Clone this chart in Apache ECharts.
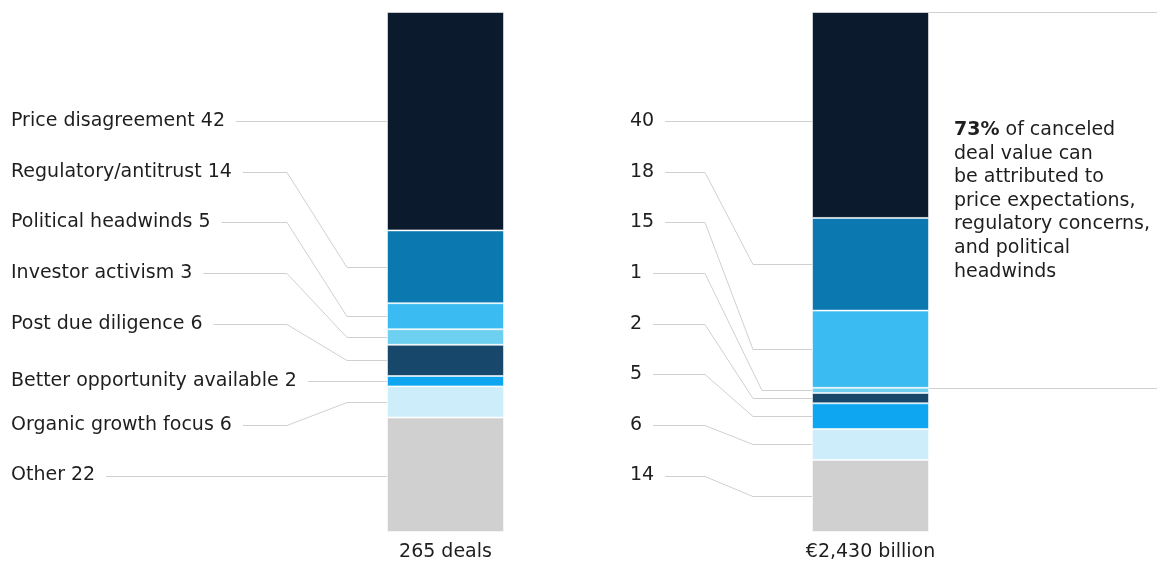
<!DOCTYPE html>
<html><head><meta charset="utf-8">
<script src="https://cdn.jsdelivr.net/npm/echarts@6/dist/echarts.min.js"></script>
<style>html,body{margin:0;padding:0;background:#fff}#c{width:1157px;height:563px}</style>
</head><body><div id="c"></div>
<script>
// ---- data ----
const categories = ['Price disagreement','Regulatory/antitrust','Political headwinds','Investor activism','Post due diligence','Better opportunity available','Organic growth focus','Other'];
const dealShares = [42,14,5,3,6,2,6,22];
const valueShares = [40,18,15,1,2,5,6,14];
const barNames = ['265 deals','€2,430 billion'];
const noteLines = ['{b|73%} of canceled','deal value can','be attributed to','price expectations,','regulatory concerns,','and political','headwinds'];
const notedCount = 3; // price + regulatory + political = 73% of value

// ---- styles / layout ----
const colors = ['#0b1a2d','#0b78b0','#3abcf3','#6ed0f0','#17476b','#0ea6f0','#cdedfb','#d0d0d0'];
const FONT = '"DejaVu Sans", sans-serif';
const FS = 19;
const TXT = '#1e1e1e';
const LINE = '#d0d0d0';
const BAR_W = 117;
const LABEL_TOP = 121, LABEL_STEP = 50.65;

const sum = a => a.reduce((s, v) => s + v, 0);
const panels = [
  { data: dealShares, labels: categories.map((c, i) => c + ' ' + dealShares[i]), labelX: 11, e1: 100, e2: 40, straight: [0, 5, 7], e2fix: {} },
  { data: valueShares, labels: valueShares.map(v => String(v)), labelX: 630, e1: 107, e2: 59, straight: [0], e2fix: { 3: -9 } }
];

const chart = echarts.init(document.getElementById('c'), null, { renderer: 'canvas' });
const series = [];
panels.forEach((p, pi) => {
  categories.forEach((c, i) => {
    series.push({
      type: 'bar', name: c, stack: 's' + pi, xAxisIndex: pi, yAxisIndex: pi,
      barWidth: '100%', data: [p.data[i]], silent: true,
      itemStyle: { color: colors[i], borderColor: 'rgba(255,255,255,0.55)', borderWidth: 1 }
    });
  });
});
chart.setOption({
  animation: false,
  grid: [
    { left: 387, top: 12, width: BAR_W, height: 520 },
    { left: 812, top: 12, width: BAR_W, height: 520 }
  ],
  xAxis: [0, 1].map(i => ({
    type: 'category', gridIndex: i, data: [barNames[i]],
    axisLine: { show: false }, axisTick: { show: false }, splitLine: { show: false },
    axisLabel: { fontFamily: FONT, fontSize: FS, color: TXT, margin: 11 }
  })),
  yAxis: [0, 1].map(i => ({
    type: 'value', gridIndex: i, min: 0, max: sum(panels[i].data), inverse: true, show: false
  })),
  series
});

const ctx = document.createElement('canvas').getContext('2d');
ctx.font = FS + 'px "DejaVu Sans"';
const graphics = [];
const crisp = v => Math.round(v) + 0.5;

panels.forEach((p, pi) => {
  const cx = chart.convertToPixel({ xAxisIndex: pi }, barNames[pi]);
  const barLeft = cx - BAR_W / 2;
  let cum = 0;
  p.data.forEach((v, i) => {
    const yTop = chart.convertToPixel({ yAxisIndex: pi }, cum);
    const yBot = chart.convertToPixel({ yAxisIndex: pi }, cum + v);
    cum += v;
    const mid = (yTop + yBot) / 2;
    let ly = LABEL_TOP + i * LABEL_STEP;
    const straight = p.straight.includes(i);
    if (straight && !(ly > yTop + 2 && ly < yBot - 2)) ly = mid;
    graphics.push({
      type: 'text', x: p.labelX, y: ly, silent: true,
      style: { text: p.labels[i], fontFamily: FONT, fontSize: FS, fill: TXT, textVerticalAlign: 'middle', verticalAlign: 'middle' }
    });
    const x0 = p.labelX + ctx.measureText(p.labels[i]).width + 11;
    let pts;
    if (straight) {
      pts = [[x0, crisp(ly)], [barLeft, crisp(ly)]];
    } else {
      const e2 = barLeft - p.e2 + (p.e2fix[i] ? -p.e2fix[i] : 0);
      pts = [[x0, crisp(ly)], [barLeft - p.e1, crisp(ly)], [e2, crisp(mid)], [barLeft, crisp(mid)]];
    }
    graphics.push({ type: 'polyline', silent: true, shape: { points: pts }, style: { stroke: LINE, lineWidth: 1, fill: null } });
  });
});

// bracket lines and note on right panel
(function () {
  const pi = 1;
  const cx = chart.convertToPixel({ xAxisIndex: pi }, barNames[pi]);
  const barRight = cx + BAR_W / 2;
  const yA = chart.convertToPixel({ yAxisIndex: pi }, 0);
  const yB = chart.convertToPixel({ yAxisIndex: pi }, sum(valueShares.slice(0, notedCount)));
  [yA, yB].forEach(y => graphics.push({
    type: 'line', silent: true, shape: { x1: barRight, y1: crisp(y), x2: 1157, y2: crisp(y) },
    style: { stroke: LINE, lineWidth: 1 }
  }));
  noteLines.forEach((t, k) => graphics.push({
    type: 'text', x: 954, y: 130 + k * 23.6, silent: true,
    style: {
      text: t, fontFamily: FONT, fontSize: FS, fill: TXT, textVerticalAlign: 'middle', verticalAlign: 'middle',
      rich: { b: { fontFamily: FONT, fontSize: FS, fontWeight: 'bold', fill: TXT } }
    }
  }));
})();

chart.setOption({ graphic: { elements: graphics } });
</script>
</body></html>
